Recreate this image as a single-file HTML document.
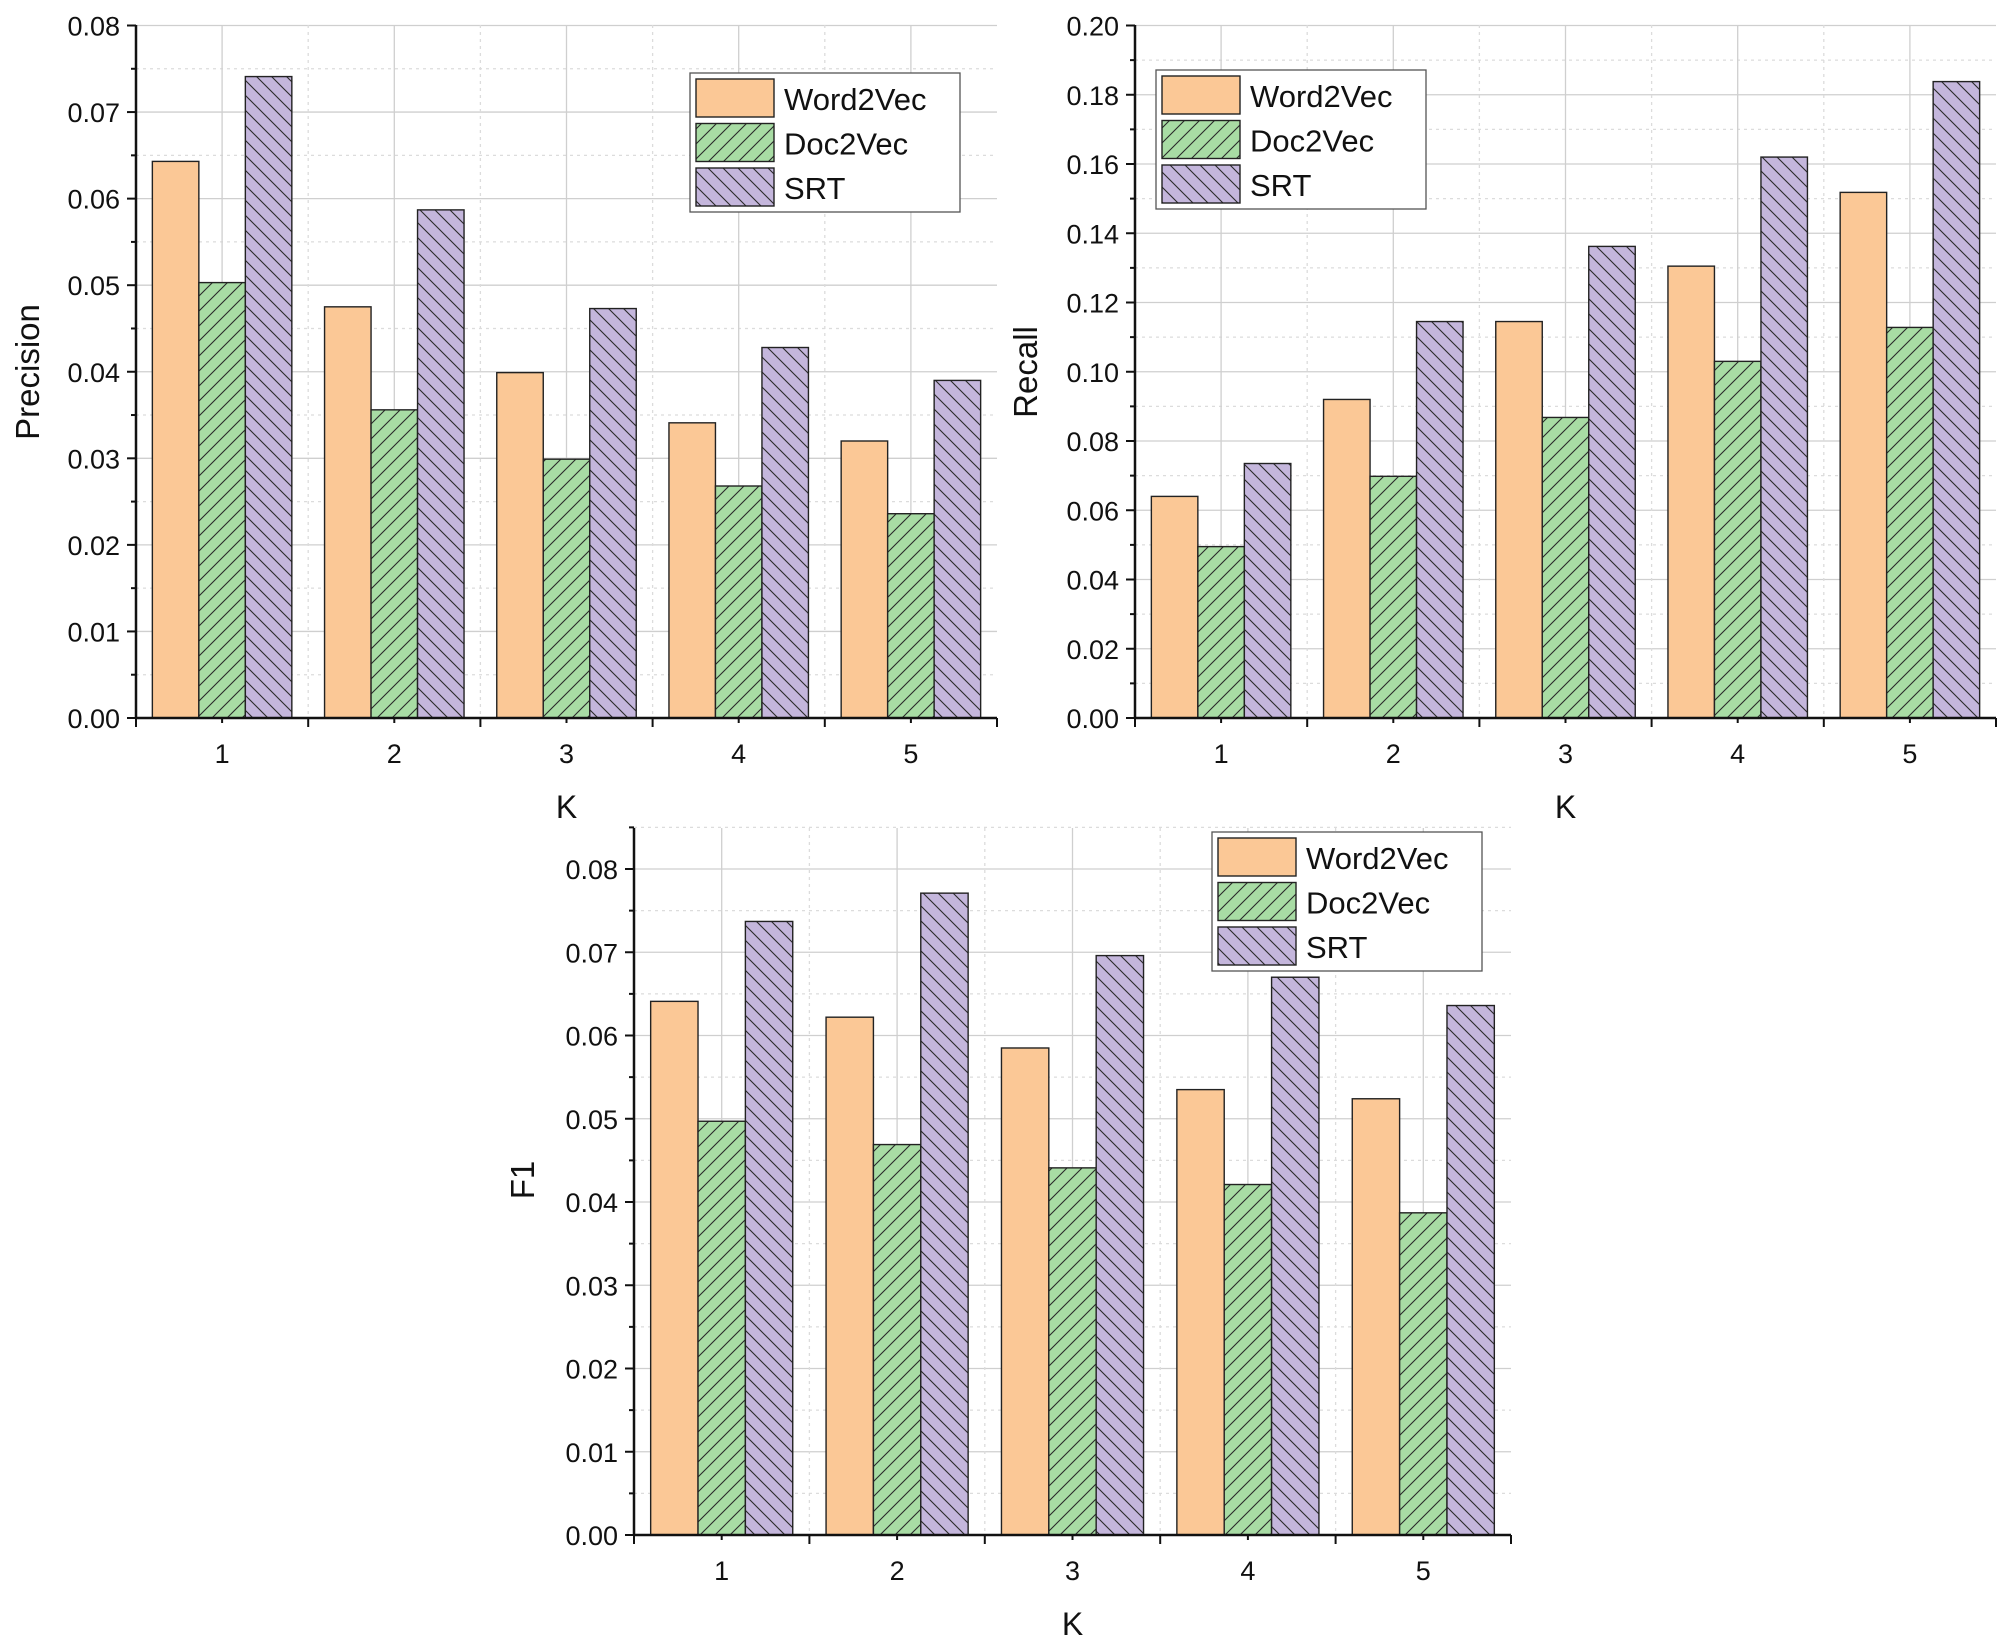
<!DOCTYPE html>
<html><head><meta charset="utf-8"><style>
html,body{margin:0;padding:0;background:#fff;}
svg{display:block;font-family:"Liberation Sans",Arial,sans-serif;}
</style></head><body>
<svg id="fig" width="2000" height="1651" viewBox="0 0 2000 1651" xmlns="http://www.w3.org/2000/svg">
<defs>
<pattern id="hatchG" patternUnits="userSpaceOnUse" width="15" height="15">
<rect width="15" height="15" fill="#a8dca4"/>
<path d="M-2,17 L17,-2 M-2,2 L2,-2 M13,17 L17,13" stroke="#2a2a2a" stroke-width="1.1"/>
</pattern>
<pattern id="hatchP" patternUnits="userSpaceOnUse" width="15" height="15">
<rect width="15" height="15" fill="#c4b6dc"/>
<path d="M-2,-2 L17,17 M-2,13 L2,17 M13,-2 L17,2" stroke="#2a2a2a" stroke-width="1.1"/>
</pattern>
</defs>
</svg>
<script>
var categories = ["1","2","3","4","5"];
var seriesNames = ["Word2Vec","Doc2Vec","SRT"];
var precW = [0.0643,0.0475,0.0399,0.0341,0.0320];
var precD = [0.0503,0.0356,0.0299,0.0268,0.0236];
var precS = [0.0741,0.0587,0.0473,0.0428,0.0390];
var recW = [0.064,0.092,0.1145,0.1305,0.1518];
var recD = [0.0495,0.0698,0.0868,0.103,0.1128];
var recS = [0.0735,0.1145,0.1362,0.162,0.1838];
var f1W = [0.0641,0.0622,0.0585,0.0535,0.0524];
var f1D = [0.0497,0.0469,0.0441,0.0421,0.0387];
var f1S = [0.0737,0.0771,0.0696,0.0670,0.0636];
var precTicks = ["0.00","0.01","0.02","0.03","0.04","0.05","0.06","0.07","0.08"];
var recTicks = ["0.00","0.02","0.04","0.06","0.08","0.10","0.12","0.14","0.16","0.18","0.20"];
var f1Ticks = ["0.00","0.01","0.02","0.03","0.04","0.05","0.06","0.07","0.08"];

var NS="http://www.w3.org/2000/svg";
var svg=document.getElementById('fig');
function mk(tag,attrs,parent){var e=document.createElementNS(NS,tag);for(var k in attrs)e.setAttribute(k,attrs[k]);(parent||svg).appendChild(e);return e;}
var fills=["#fbc896","url(#hatchG)","url(#hatchP)"];

function chart(cfg){
  var g=mk('g',{});
  
  
  var L=cfg.x0,R=cfg.x1,T=cfg.yt,B=cfg.yb;
  var step=cfg.step, ymax=cfg.ymax;
  function ys(v){return B-(v/step)*cfg.pxPer;}
  var cw=(R-L)/categories.length;
  function xs(i){return L+cw*(i+0.5);}
  var nMinor=Math.round(ymax/(step/2));
  for(var k=1;k<=nMinor;k++){
    var y=B-k*cfg.pxPer/2; if(y<T-1)break;
    var major=(k%2==0);
    var gl=mk('line',{x1:L,x2:R,y1:y,y2:y,stroke:major?'#cfcfcf':'#dcdcdc','stroke-width':1.3,'stroke-dasharray':major?'':'3,4'},g);
    
    
  }
  for(var i=0;i<categories.length;i++){
    var vl=mk('line',{x1:xs(i),x2:xs(i),y1:T,y2:B,stroke:'#cfcfcf','stroke-width':1.3},g);
    
    
    if(i>0){var dl=mk('line',{x1:L+cw*i,x2:L+cw*i,y1:T,y2:B,stroke:'#dcdcdc','stroke-width':1.3,'stroke-dasharray':'3,4'},g);
    
    }
  }
  var bw=cw*0.27;
  for(var s=0;s<3;s++){
    for(var i=0;i<categories.length;i++){
      var v=cfg.series[s][i];
      var x=xs(i)-1.5*bw+s*bw;
      var r=mk('rect',{x:x,y:ys(v),width:bw,height:B-ys(v),fill:fills[s],stroke:'#222','stroke-width':1.4},g);
      
      
    }
  }
  var ya=mk('line',{x1:L,x2:L,y1:T,y2:B+1,stroke:'#111','stroke-width':2.5},g);
  
  
  var xa=mk('line',{x1:L-1,x2:R,y1:B,y2:B,stroke:'#111','stroke-width':2.5},g);
  
  
  for(var k=0;k<=nMinor;k++){
    var y=B-k*cfg.pxPer/2; if(y<T-1)break;
    var major=(k%2==0);
    mk('line',{x1:L-(major?9:5),x2:L,y1:y,y2:y,stroke:'#111','stroke-width':2},g);
    if(major){
      var t=mk('text',{x:L-16,y:y+10,'text-anchor':'end','font-size':27,fill:'#111'},g);
      t.textContent=cfg.ticks[k/2];
      
      
    }
  }
  for(var i=0;i<=categories.length;i++){
    mk('line',{x1:L+cw*i,x2:L+cw*i,y1:B,y2:B+9,stroke:'#111','stroke-width':2},g);
  }
  for(var i=0;i<categories.length;i++){
    mk('line',{x1:xs(i),x2:xs(i),y1:B,y2:B+5,stroke:'#111','stroke-width':2},g);
    var t=mk('text',{x:xs(i),y:B+45,'text-anchor':'middle','font-size':27,fill:'#111'},g);
    t.textContent=categories[i];
    
    
  }
  var xt=mk('text',{x:(L+R)/2,y:B+100,'text-anchor':'middle','font-size':32,fill:'#111'},g);
  xt.textContent='K';
  
  
  var yt=mk('text',{x:0,y:0,'text-anchor':'middle','font-size':33,fill:'#111',transform:'translate('+cfg.ylx+','+cfg.yly+') rotate(-90)'},g);
  yt.textContent=cfg.ylabel;
  
  
  var lg=mk('g',{},g);
  
  
  var lx=cfg.lx,ly=cfg.ly;
  mk('rect',{x:lx,y:ly,width:270,height:139,fill:'#fff',stroke:'#555','stroke-width':1.3},lg);
  for(var s=0;s<3;s++){
    var e=mk('g',{},lg);
    
    
    mk('rect',{x:lx+6,y:ly+6+s*44.5,width:78,height:38,fill:fills[s],stroke:'#222','stroke-width':1.4},e);
    var t=mk('text',{x:lx+94,y:ly+37+s*44.5,'font-size':31,fill:'#111'},e);
    t.textContent=seriesNames[s];
  }
}
chart({name:'precision-chart',x0:136,x1:997,yt:25,yb:718,step:0.01,pxPer:(718-25.5)/8,ymax:0.08,ticks:precTicks,series:[precW,precD,precS],ylabel:'Precision',ylx:39,yly:372,lx:690,ly:73});
chart({name:'recall-chart',x0:1135,x1:1996,yt:25,yb:718,step:0.02,pxPer:(718-25.5)/10,ymax:0.20,ticks:recTicks,series:[recW,recD,recS],ylabel:'Recall',ylx:1037,yly:372,lx:1156,ly:70});
chart({name:'f1-chart',x0:634,x1:1511,yt:828,yb:1535,step:0.01,pxPer:83.25,ymax:0.085,ticks:f1Ticks,series:[f1W,f1D,f1S],ylabel:'F1',ylx:534,yly:1180,lx:1212,ly:832});
</script>
</body></html>
